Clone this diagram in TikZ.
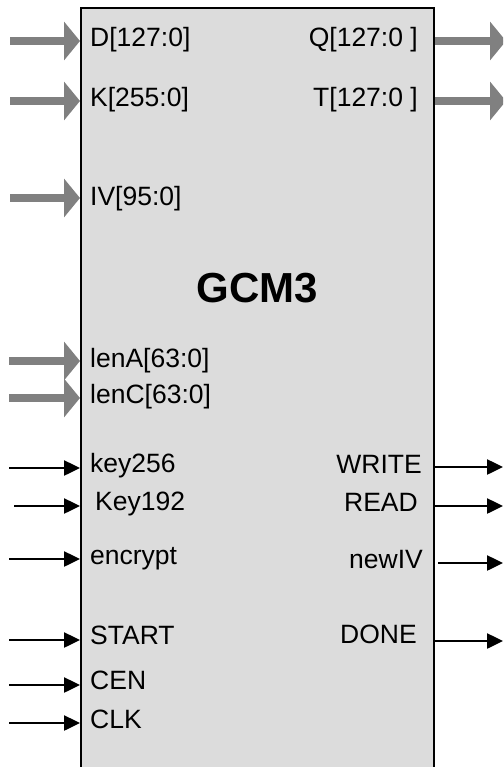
\documentclass[tikz,border=0pt]{standalone}
\usepackage{fontspec}
\setmainfont{Liberation Sans}
\usetikzlibrary{arrows.meta}
\definecolor{blockgray}{RGB}{220,220,220}
\definecolor{busgray}{RGB}{128,128,128}
\tikzset{
block/.style={draw, line width=2pt, fill=blockgray, minimum width=353pt, minimum height=772pt, inner sep=0pt},
bus/.style={color=busgray, line width=8pt, -{Triangle[length=16pt,width=38pt]}},
wire/.style={line width=2.5pt, -{Triangle[length=16pt,width=15pt]}},
portL/.style={anchor=base west, inner sep=0pt, font=\fontsize{26.5}{30}\selectfont},
portR/.style={anchor=base east, inner sep=0pt, font=\fontsize{26.5}{30}\selectfont},
title/.style={anchor=base, inner sep=0pt, font=\fontsize{42}{48}\selectfont\bfseries}
}

\begin{document}
\begin{tikzpicture}[x=1pt, y=-1pt]
  \clip (0,0) rectangle (503,767);
  \node[block] (gcm) at (257.5,394) {};
  \node[title] (name) at (257,302) {GCM3};
  % bus inputs
  \coordinate (dIn) at (10,41);
  \coordinate (kIn) at (10,101);
  \coordinate (ivIn) at (10,198);
  \coordinate (laIn) at (9,361);
  \coordinate (lcIn) at (9,398);
  \draw[bus] (dIn) -- (gcm.west |- dIn);
  \draw[bus] (kIn) -- (gcm.west |- kIn);
  \draw[bus] (ivIn) -- (gcm.west |- ivIn);
  \draw[bus] (laIn) -- (gcm.west |- laIn);
  \draw[bus] (lcIn) -- (gcm.west |- lcIn);
  \node[portL] (dLbl) at (90,47) {D[127:0]};
  \node[portL] (kLbl) at (90,107) {K[255:0]};
  \node[portL] (ivLbl) at (90,205) {IV[95:0]};
  \node[portL] (laLbl) at (90,367) {lenA[63:0]};
  \node[portL] (lcLbl) at (90,403) {lenC[63:0]};
  % bus outputs
  \coordinate (qOut) at (506,41);
  \coordinate (tOut) at (506,101);
  \draw[bus] (gcm.east |- qOut) -- (qOut);
  \draw[bus] (gcm.east |- tOut) -- (tOut);
  \node[portR] (qLbl) at (418,47) {Q[127:0 ]};
  \node[portR] (tLbl) at (418,107) {T[127:0 ]};
  % control inputs
  \coordinate (k256In) at (9,468);
  \coordinate (k192In) at (14,506);
  \coordinate (encIn) at (9,559);
  \coordinate (startIn) at (9,640);
  \coordinate (cenIn) at (9,685);
  \coordinate (clkIn) at (9,723);
  \draw[wire] (k256In) -- (gcm.west |- k256In);
  \draw[wire] (k192In) -- (gcm.west |- k192In);
  \draw[wire] (encIn) -- (gcm.west |- encIn);
  \draw[wire] (startIn) -- (gcm.west |- startIn);
  \draw[wire] (cenIn) -- (gcm.west |- cenIn);
  \draw[wire] (clkIn) -- (gcm.west |- clkIn);
  \node[portL] (k256Lbl) at (90,472) {key256};
  \node[portL] (k192Lbl) at (95,510) {Key192};
  \node[portL] (encLbl) at (90,564) {encrypt};
  \node[portL] (startLbl) at (90,644) {START};
  \node[portL] (cenLbl) at (90,689) {CEN};
  \node[portL] (clkLbl) at (90,728) {CLK};
  % control outputs
  \coordinate (wrOut) at (503,467);
  \coordinate (rdOut) at (503,506);
  \coordinate (nivOut) at (503,563);
  \coordinate (doneOut) at (503,641);
  \draw[wire] (gcm.east |- wrOut) -- (wrOut);
  \draw[wire] (gcm.east |- rdOut) -- (rdOut);
  \draw[wire, shorten <=3pt] (gcm.east |- nivOut) -- (nivOut);
  \draw[wire] (gcm.east |- doneOut) -- (doneOut);
  \node[portR] (wrLbl) at (422,473) {WRITE};
  \node[portR] (rdLbl) at (418,511) {READ};
  \node[portR] (nivLbl) at (423,568) {newIV};
  \node[portR] (doneLbl) at (417,643) {DONE};
\end{tikzpicture}
\end{document}
